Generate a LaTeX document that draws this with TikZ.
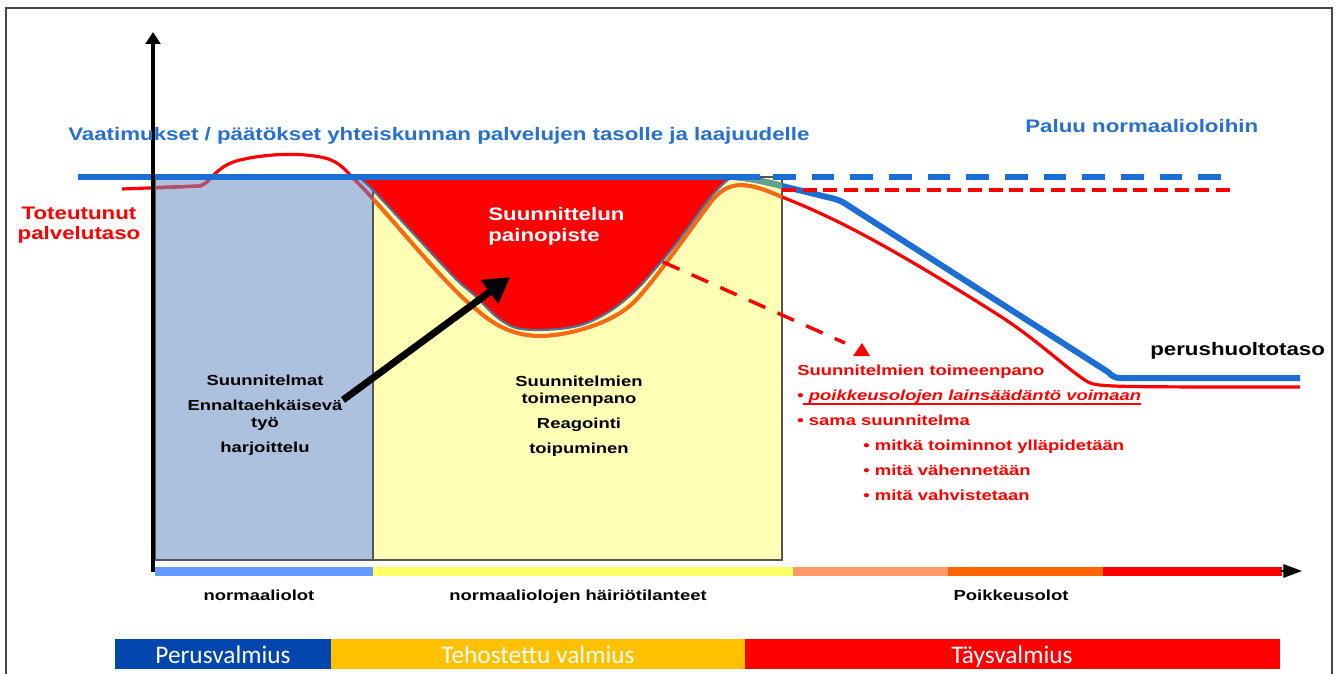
\documentclass[tikz,border=0pt]{standalone}
\usepackage{fontspec}
\usetikzlibrary{arrows.meta}
\setmainfont{Liberation Sans}
\newfontfamily\lsw[FakeStretch=1.27]{Liberation Sans}
\newfontfamily\lswb[FakeStretch=1.23]{Liberation Sans}
\newfontfamily\calib{Carlito}
\definecolor{lineblue}{RGB}{28,110,212}
\definecolor{txtblue}{RGB}{40,112,205}
\definecolor{boxblue}{RGB}{172,193,222}
\definecolor{boxyellow}{RGB}{255,255,181}
\definecolor{edgegray}{RGB}{85,85,85}
\definecolor{valleyedge}{RGB}{80,110,150}
\definecolor{curveorange}{RGB}{250,105,20}
\definecolor{mauve}{RGB}{176,80,110}
\definecolor{teal}{RGB}{100,160,140}
\definecolor{barblue}{RGB}{102,153,255}
\definecolor{baryellow}{RGB}{255,255,102}
\definecolor{barlorange}{RGB}{255,153,102}
\definecolor{barorange}{RGB}{255,102,0}
\definecolor{perusblue}{RGB}{0,70,173}
\definecolor{tehogold}{RGB}{255,192,0}
\definecolor{framegray}{RGB}{70,70,70}
\begin{document}
\begin{tikzpicture}[x=0.75pt,y=-0.75pt,
  bigtxt/.style={font=\lswb\bfseries\fontsize{13.6}{16}\selectfont, inner sep=0pt},
  smalltxt/.style={font=\lsw\bfseries\fontsize{10.9}{13}\selectfont, inner sep=0pt},
  bartxt/.style={font=\calib\fontsize{19}{22}\selectfont, text=white, inner sep=0pt},
  boxfill/.style={draw=edgegray, line width=1pt},
  redcurve/.style={red, line width=2.4pt, line join=round},
  bluecurve/.style={lineblue, line width=4.5pt, line join=round}]
\useasboundingbox (0,0) rectangle (1337,674);
\fill[white] (0,0) rectangle (1337,674);
% frame
\draw[framegray, line width=1.5pt] (6,674) -- (6,8) -- (1332,8) -- (1332,674);

% boxes
\path[boxfill, fill=boxblue] (155,177) rectangle (373,560);
\path[boxfill, fill=boxyellow] (373,177) rectangle (782,560);

% red realised service level curve
\def\redpath{(122,189) -- (200,186) .. controls (212,182) and (215,166) .. (240,160) .. controls (265,154) and (300,152) .. (325,158) .. controls (340,162) and (345,170) .. (353,178)
  .. controls (360,185) and (365,190) .. (373,199) .. controls (400,228) and (450,290) .. (477,310) .. controls (495,326) and (515,336) .. (540,336)
  .. controls (565,336) and (610,325) .. (633,303) .. controls (650,287) and (690,230) .. (710,203) .. controls (720,190) and (728,186) .. (740,185)
  .. controls (755,185) and (770,192) .. (782,197) .. controls (830,216) and (880,240) .. (1000,316) .. controls (1040,342) and (1068,370) .. (1088,382)
  .. controls (1098,387) and (1110,387) .. (1300,387)}
\draw[redcurve] \redpath;
\begin{scope}
  \clip (155,178) rectangle (373,560);
  \draw[mauve, line width=2.4pt] \redpath;
\end{scope}
\begin{scope}
  \clip (373,178) rectangle (782,560);
  \draw[curveorange, line width=3pt] \redpath;
\end{scope}

% blue descending curve
\def\bluepath{(735,177) .. controls (755,179) and (770,183) .. (782,186) -- (835,199) .. controls (842,201) and (846,204) .. (852,208) -- (1108,372) .. controls (1112,376) and (1115,378) .. (1120,378) -- (1300,378)}
\draw[bluecurve] \bluepath;
\begin{scope}
  \clip (373,179) rectangle (782,560);
  \draw[teal, line width=4.5pt] \bluepath;
\end{scope}

% valley (planning focus)
\fill[red, draw=valleyedge, line width=1.6pt] (358,177) -- (360,178) .. controls (364,182) and (367,184) .. (370,187)
  .. controls (390,208) and (430,252) .. (450,273) .. controls (460,284) and (466,288) .. (473,294) .. controls (485,305) and (495,318) .. (507,324)
  .. controls (515,329) and (525,330) .. (537,330) .. controls (555,330) and (575,328) .. (587,323) .. controls (605,316) and (620,305) .. (633,293)
  .. controls (645,282) and (652,272) .. (663,260) .. controls (678,242) and (690,225) .. (703,207) .. controls (712,195) and (722,183) .. (732,177) -- cycle;

% blue requirement line
\draw[lineblue, line width=4.5pt] (78,177) -- (760,177);
\draw[lineblue, line width=4.5pt, dash pattern=on 17pt off 12pt] (773,177) -- (1226,177);
\draw[red, line width=3.2pt, dash pattern=on 10.5pt off 5pt] (782,190) -- (1236,190);

% axes
\fill[barblue] (155,567) rectangle (373,576);
\fill[baryellow] (373,567) rectangle (793,576);
\fill[barlorange] (793,567) rectangle (948,576);
\fill[barorange] (948,567) rectangle (1103,576);
\fill[red] (1103,567) rectangle (1282,576);
\coordinate (xtail) at (1280,571);
\coordinate (xtip) at (1302,571);
\draw[line width=1.5pt, -{Triangle[length=14pt,width=10pt]}] (xtail) -- (xtip);
\coordinate (yfoot) at (153,572);
\coordinate (ytop) at (153,32);
\draw[line width=3pt, -{Triangle[length=9pt,width=11pt]}] (yfoot) -- (ytop);

% texts
\node[bigtxt, text=txtblue, anchor=base west] (vaat) at (68,140) {Vaatimukset / päätökset yhteiskunnan palvelujen tasolle ja laajuudelle};
\node[bigtxt, text=txtblue, anchor=base west] (paluu) at (1025,132) {Paluu normaalioloihin};
\node[bigtxt, text=red, anchor=base] (tot1) at (79,219) {Toteutunut};
\node[bigtxt, text=red, anchor=base] (tot2) at (79,239) {palvelutaso};
\node[bigtxt, text=white, anchor=base west] (paino1) at (488,220) {Suunnittelun};
\node[bigtxt, text=white, anchor=base west] (paino2) at (488,241) {painopiste};
\node[bigtxt, text=black, anchor=base west] (perush) at (1150,355) {perushuoltotaso};

\node[smalltxt, anchor=base] (l1) at (265,385) {Suunnitelmat};
\node[smalltxt, anchor=base] (l2) at (265,410) {Ennaltaehkäisevä};
\node[smalltxt, anchor=base] (l3) at (265,427) {työ};
\node[smalltxt, anchor=base] (l4) at (265,452) {harjoittelu};

\node[smalltxt, anchor=base] (m1) at (579,386) {Suunnitelmien};
\node[smalltxt, anchor=base] (m2) at (579,403) {toimeenpano};
\node[smalltxt, anchor=base] (m3) at (579,428) {Reagointi};
\node[smalltxt, anchor=base] (m4) at (579,453) {toipuminen};

\node[smalltxt, text=red, anchor=base west] (r1) at (797,375) {Suunnitelmien toimeenpano};
\node[smalltxt, text=red, anchor=base west] (r2) at (797,400) {•\ \itshape poikkeusolojen lainsäädäntö voimaan};
\draw[red, line width=1.3pt] (803,404) -- (1141,404);
\node[smalltxt, text=red, anchor=base west] (r3) at (797,425) {• sama suunnitelma};
\node[smalltxt, text=red, anchor=base west] (r4) at (863,450) {• mitkä toiminnot ylläpidetään};
\node[smalltxt, text=red, anchor=base west] (r5) at (863,475) {• mitä vähennetään};
\node[smalltxt, text=red, anchor=base west] (r6) at (863,500) {• mitä vahvistetaan};

\node[smalltxt, anchor=base] (x1) at (259,600) {normaaliolot};
\node[smalltxt, anchor=base] (x2) at (578,600) {normaaliolojen häiriötilanteet};
\node[smalltxt, anchor=base] (x3) at (1011,600) {Poikkeusolot};

% bottom readiness bars
\fill[perusblue] (115,639) rectangle (331,669);
\fill[tehogold] (331,639) rectangle (745,669);
\fill[red] (745,639) rectangle (1280,669);
\node[bartxt, anchor=base] (b1) at (223,663) {Perusvalmius};
\node[bartxt, anchor=base] (b2) at (538,663) {Tehostettu valmius};
\node[bartxt, anchor=base] (b3) at (1012,663) {Täysvalmius};

% arrows
\coordinate (blkA) at (343,400);
\coordinate (blkB) at (510,277);
\draw[line width=5.25pt, -{Triangle[length=19pt,width=21pt]}] (blkA) -- (blkB);
\coordinate (rdA) at (663,262);
\coordinate (rdB) at (845,343);
\draw[red, line width=2.6pt, dash pattern=on 13.5pt off 10pt] (rdA) -- (rdB);
\fill[red] (853,356) -- (870,356) -- (862,343) -- cycle;
\end{tikzpicture}
\end{document}
